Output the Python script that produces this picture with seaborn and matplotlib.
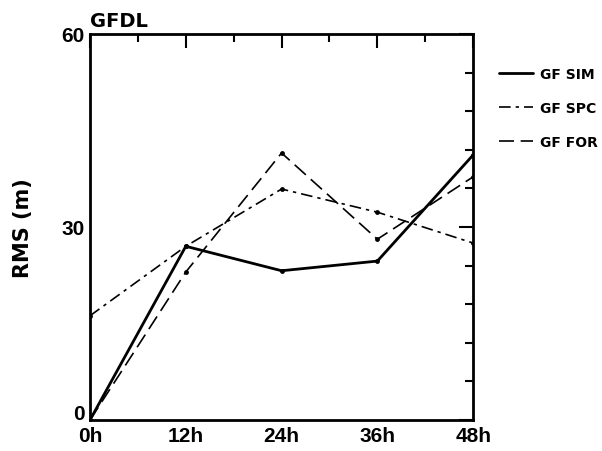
import matplotlib
matplotlib.use("Agg")
import matplotlib.pyplot as plt
import matplotlib.transforms as mtransforms
from matplotlib.ticker import MultipleLocator, FixedLocator, FixedFormatter
import seaborn as sns
import pandas as pd

sns.set_theme(style="white", rc={"text.color": "black", "axes.labelcolor": "black",
                                 "xtick.color": "black", "ytick.color": "black"})
plt.rcParams['font.family'] = ['DejaVu Sans']

hours = [0, 12, 24, 36, 48]
hour_labels = ["0h", "12h", "24h", "36h", "48h"]
gf_sim = [0.0, 27.0, 23.2, 24.7, 41.2]
gf_spc = [16.2, 27.0, 35.9, 32.3, 27.5]
gf_for = [0.0, 23.0, 41.5, 28.1, 37.8]

df = pd.DataFrame({
    "hour": hours * 3,
    "rms": gf_sim + gf_spc + gf_for,
    "model": ["GF SIM"] * 5 + ["GF SPC"] * 5 + ["GF FOR"] * 5,
})

fig = plt.figure(figsize=(6.02, 4.52), dpi=100)
ax = fig.add_axes([0.1495, 0.0686, 0.6365, 0.854])

styles = {
    "GF SIM": dict(linestyle="-", linewidth=2.0),
    "GF SPC": dict(linestyle=(0, (7, 3, 2, 3)), linewidth=1.2),
    "GF FOR": dict(linestyle=(0, (9, 4)), linewidth=1.2),
}
for name, st in styles.items():
    sub = df[df["model"] == name]
    sns.lineplot(data=sub, x="hour", y="rms", ax=ax, color="black",
                 marker="o", markersize=3.5, markeredgewidth=0,
                 label=name, **st)

ax.set_xlim(0, 48)
ax.set_ylim(0, 60)
ax.xaxis.set_major_locator(FixedLocator(hours))
ax.xaxis.set_major_formatter(FixedFormatter(hour_labels))
ax.xaxis.set_minor_locator(MultipleLocator(6))
ax.yaxis.set_major_locator(FixedLocator([0, 30, 60]))
ax.yaxis.set_minor_locator(MultipleLocator(6))

ax.tick_params(which="both", direction="in", top=True, right=True,
               color="black", width=1.5)
ax.tick_params(which="major", length=10, pad=4)
ax.tick_params(which="minor", length=6)
for lab in ax.get_xticklabels() + ax.get_yticklabels():
    lab.set_family("Liberation Sans")
    lab.set_fontweight("bold")
    lab.set_fontsize(15)

# lift the "0" a little so it clears "0h"
lift = mtransforms.ScaledTranslation(0, 6 / 72, fig.dpi_scale_trans)
ylabs = ax.get_yticklabels()
ylabs[0].set_transform(ylabs[0].get_transform() + lift)

for sp in ax.spines.values():
    sp.set_color("black")
    sp.set_linewidth(2)

ax.set_xlabel("")
ax.set_ylabel("RMS (m)", fontsize=15, fontweight="bold", labelpad=20)
ax.set_title("GFDL", loc="left", fontsize=14, fontweight="bold", pad=6)

leg = ax.legend(loc="upper left", bbox_to_anchor=(1.052, 0.93), frameon=False,
                handlelength=2.45, handletextpad=0.5, labelspacing=1.45,
                borderaxespad=0,
                prop={"family": "DejaVu Sans", "weight": "bold", "size": 10})
for h in leg.get_lines():
    h.set_marker("")

fig.savefig("out.png", dpi=100)
